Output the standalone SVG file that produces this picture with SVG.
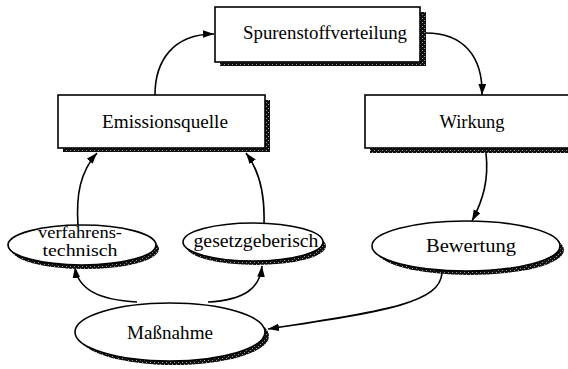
<svg xmlns="http://www.w3.org/2000/svg" width="568" height="369" viewBox="0 0 568 369">
  <defs>
    <!-- dithered drop shadow -->
    <pattern id="shade" width="4" height="4" patternUnits="userSpaceOnUse">
      <rect width="4" height="4" fill="#111"/>
      <rect x="0" y="0" width="1" height="1" fill="#9a9a9a"/>
      <rect x="2" y="2" width="1" height="1" fill="#9a9a9a"/>
    </pattern>
    <marker id="arrow" viewBox="0 0 10 7" markerWidth="11" markerHeight="8" refX="10" refY="3.5" orient="auto" markerUnits="userSpaceOnUse">
      <path d="M0,0 L10,3.5 L0,7 z" fill="#000"/>
    </marker>
  </defs>
  <style>
    .box { fill: #fff; stroke: #000; stroke-width: 1.6; }
    .shadow { fill: url(#shade); stroke: none; }
    .label { font-family: "Liberation Serif", "Times New Roman", serif; font-size: 18px; fill: #000; text-anchor: middle; }
    .small { font-size: 16px; }
    .conn { fill: none; stroke: #000; stroke-width: 1.6; marker-end: url(#arrow); }
  </style>
  <rect width="568" height="369" fill="#fff"/>

  <g id="connectors">
    <path class="conn" d="M155,95 C155,62 172,34 214,34"/>
    <path class="conn" d="M426,33 C462,33 483,55 482,95"/>
    <path class="conn" d="M486,153 C489,180 483,200 472,221"/>
    <path class="conn" d="M442,273 C440,302 390,311 268,329"/>
    <path class="conn" d="M137,302 C100,300 78,290 75,267"/>
    <path class="conn" d="M208,302 C245,300 260,288 262,266"/>
    <path class="conn" d="M78,225 C76,195 80,172 97,153"/>
    <path class="conn" d="M264,223 C265,192 259,170 246,153"/>
  </g>

  <g id="spurenstoffverteilung">
    <rect class="shadow" x="220" y="12" width="206" height="54"/>
    <rect class="box" x="215" y="7" width="205" height="55"/>
    <text class="label" x="325" y="39" textLength="164" lengthAdjust="spacingAndGlyphs">Spurenstoffverteilung</text>
  </g>

  <g id="emissionsquelle">
    <rect class="shadow" x="63" y="100" width="207" height="52"/>
    <rect class="box" x="58" y="95" width="207" height="53"/>
    <text class="label" x="165" y="128" textLength="126" lengthAdjust="spacingAndGlyphs">Emissionsquelle</text>
  </g>

  <g id="wirkung">
    <rect class="shadow" x="370" y="100" width="210" height="53"/>
    <rect class="box" x="365" y="95" width="215" height="53"/>
    <text class="label" x="472" y="128" textLength="65" lengthAdjust="spacingAndGlyphs">Wirkung</text>
  </g>

  <g id="verfahrenstechnisch">
    <ellipse class="shadow" cx="85" cy="249" rx="74" ry="20"/>
    <ellipse class="box" cx="82" cy="245" rx="74" ry="20"/>
    <text class="label small" x="80" y="238" textLength="84" lengthAdjust="spacingAndGlyphs">verfahrens-</text>
    <text class="label small" x="80" y="256" textLength="75" lengthAdjust="spacingAndGlyphs">technisch</text>
  </g>

  <g id="gesetzgeberisch">
    <ellipse class="shadow" cx="256" cy="246" rx="70" ry="19"/>
    <ellipse class="box" cx="253" cy="242" rx="70" ry="19"/>
    <text class="label" x="256" y="247" textLength="125" lengthAdjust="spacingAndGlyphs">gesetzgeberisch</text>
  </g>

  <g id="bewertung">
    <ellipse class="shadow" cx="470" cy="250" rx="94" ry="25"/>
    <ellipse class="box" cx="466" cy="246" rx="94" ry="25"/>
    <text class="label" x="471" y="252" textLength="90" lengthAdjust="spacingAndGlyphs">Bewertung</text>
  </g>

  <g id="massnahme">
    <ellipse class="shadow" cx="174" cy="336" rx="95" ry="29"/>
    <ellipse class="box" cx="170" cy="332" rx="95" ry="29"/>
    <text class="label" x="170" y="339" textLength="86" lengthAdjust="spacingAndGlyphs">Maßnahme</text>
  </g>
</svg>
